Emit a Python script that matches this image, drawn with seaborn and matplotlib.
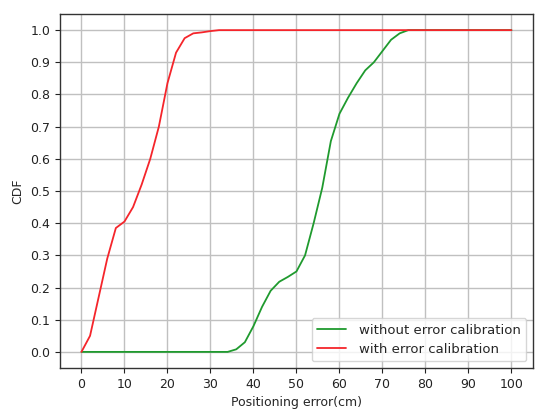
import numpy as np
import pandas as pd
import seaborn as sns
import matplotlib
matplotlib.use('Agg')
import matplotlib.pyplot as plt

# positioning error sampled every 2 cm
error_cm = list(range(0, 101, 2))

# CDF without calibration
cdf_without = [0, 0, 0, 0, 0, 0, 0, 0, 0, 0,
               0, 0, 0, 0, 0, 0, 0, 0, 0.008, 0.03,
               0.08, 0.14, 0.19, 0.218, 0.233, 0.25, 0.30, 0.40, 0.51, 0.655,
               0.74, 0.79, 0.835, 0.875, 0.90, 0.935, 0.97, 0.99, 1.0, 1.0,
               1.0, 1.0, 1.0, 1.0, 1.0, 1.0, 1.0, 1.0, 1.0, 1.0, 1.0]

# CDF with calibration
cdf_with = [0, 0.05, 0.17, 0.29, 0.385, 0.405, 0.45, 0.52, 0.60, 0.70,
            0.835, 0.93, 0.975, 0.99, 0.993, 0.997, 1.0, 1.0, 1.0, 1.0,
            1.0, 1.0, 1.0, 1.0, 1.0, 1.0, 1.0, 1.0, 1.0, 1.0,
            1.0, 1.0, 1.0, 1.0, 1.0, 1.0, 1.0, 1.0, 1.0, 1.0,
            1.0, 1.0, 1.0, 1.0, 1.0, 1.0, 1.0, 1.0, 1.0, 1.0, 1.0]

labels = ['without error calibration', 'with error calibration']

df = pd.DataFrame({
    'error': error_cm * 2,
    'cdf': cdf_without + cdf_with,
    'series': [labels[0]] * len(error_cm) + [labels[1]] * len(error_cm),
})

sns.set_style('white')
plt.rcParams['font.family'] = ['DejaVu Sans']

fig = plt.figure(figsize=(5.5, 4.13), dpi=100)
ax = fig.add_axes([0.109, 0.109, 0.86, 0.857])

sns.lineplot(data=df, x='error', y='cdf', hue='series',
             palette=['#1f9a2e', '#f5252b'], linewidth=1.3, ax=ax)

ax.set_xlim(-5, 105)
ax.set_ylim(-0.05, 1.05)
ax.set_xticks(range(0, 101, 10))
ax.set_yticks(np.arange(0, 1.01, 0.1))
ax.set_yticklabels(['%.1f' % v for v in np.arange(0, 1.01, 0.1)])
ax.tick_params(axis='both', labelsize=9, length=3.5, direction='out',
               bottom=True, left=True, colors='#222222')
ax.grid(True, color='#c0c0c0', linewidth=1.0)
for s in ax.spines.values():
    s.set_color('#333333')
    s.set_linewidth(1.0)

ax.set_xlabel('Positioning error(cm)', fontsize=9)
ax.set_ylabel('CDF', fontsize=9)
ax.legend(loc='lower right', fontsize=9.5, title=None, framealpha=0.8,
          handlelength=2.2, handletextpad=1.0)

plt.savefig('out.png', dpi=100)
